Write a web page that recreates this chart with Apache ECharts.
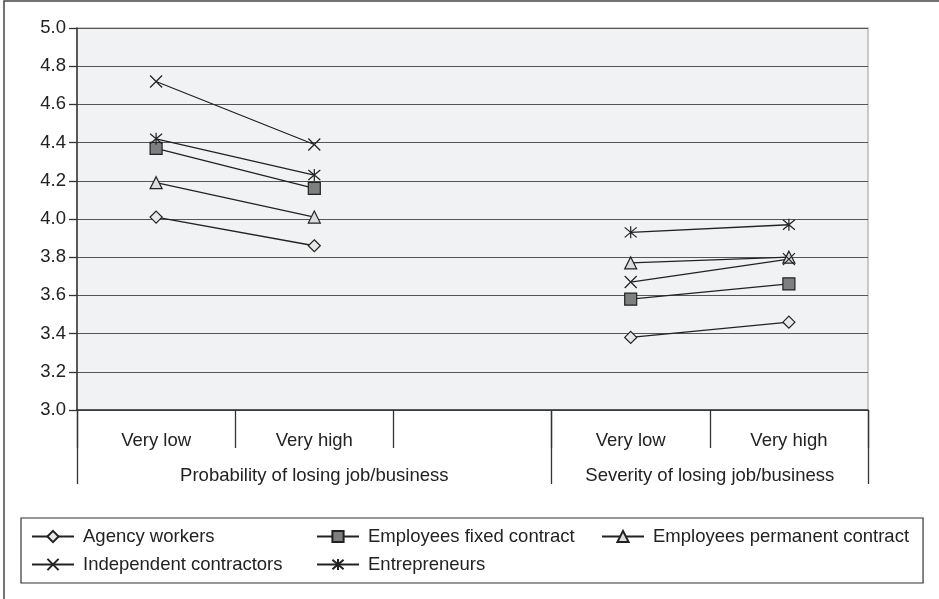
<!DOCTYPE html>
<html>
<head>
<meta charset="utf-8">
<script src="https://cdn.jsdelivr.net/npm/echarts@6/dist/echarts.min.js"></script>
<style>
  html, body { margin: 0; padding: 0; background: #fff; }
  #chart { width: 939px; height: 599px; }
</style>
</head>
<body>
<div id="chart"></div>
<script>
// ---- data ----
const categories = ["Very low", "Very high", "", "Very low", "Very high"];
const groupLabels = ["Probability of losing job/business", "Severity of losing job/business"];
const groupCenters = [1.5, 4];      // in category-slot units
const groupBounds = [0, 3, 5];      // slot boundaries between groups
const yTicks = [3.0, 3.2, 3.4, 3.6, 3.8, 4.0, 4.2, 4.4, 4.6, 4.8, 5.0];

const seriesNames = ["Agency workers", "Employees fixed contract", "Employees permanent contract",
                     "Independent contractors", "Entrepreneurs"];
const agencyWorkers          = [4.01, 3.86, null, 3.38, 3.46];
const employeesFixed         = [4.37, 4.16, null, 3.58, 3.66];
const employeesPermanent     = [4.19, 4.01, null, 3.77, 3.80];
const independentContractors = [4.72, 4.39, null, 3.67, 3.79];
const entrepreneurs          = [4.42, 4.23, null, 3.93, 3.97];

// ---- styles ----
const FONT = "'Liberation Sans', Arial, sans-serif";
const FS = 18.5;
const TXT = '#222';
const LINE = '#222';
const symbols = [
  { symbol: 'diamond', fill: '#e8e8e8' },
  { symbol: 'rect', fill: '#7f7f7f' },
  { symbol: 'triangle', fill: '#dcdcdc' },
  { symbol: 'path://M0,0L10,10M10,0L0,10', fill: 'none' },
  { symbol: 'path://M0,0L10,10M10,0L0,10M5,-1L5,11', fill: 'none' }
];
const values = [agencyWorkers, employeesFixed, employeesPermanent, independentContractors, entrepreneurs];

const series = seriesNames.map((name, i) => ({
  name: name,
  type: 'line',
  data: values[i],
  connectNulls: false,
  symbol: symbols[i].symbol,
  symbolSize: 12,
  showAllSymbol: true,
  lineStyle: { color: LINE, width: 1.3 },
  itemStyle: { color: symbols[i].fill, borderColor: '#222', borderWidth: 1.2 },
  emphasis: { disabled: true },
  z: 3
}));

const chart = echarts.init(document.getElementById('chart'), null, { renderer: 'canvas' });
chart.setOption({
  animation: false,
  textStyle: { fontFamily: FONT },
  graphic: [{
    type: 'rect', silent: true, z: -10,
    shape: { x: 4, y: 1, width: 1000, height: 1000 },
    style: { fill: 'none', stroke: '#444', lineWidth: 1.5 }
  }],
  grid: {
    left: 77, right: 71, top: 28, bottom: 189,
    show: true, backgroundColor: '#f1f2f4', borderColor: '#bbbbbb', borderWidth: 1.5,
    outerBoundsMode: 'none'
  },
  legend: {
    data: seriesNames,
    left: 21, top: 518,
    width: 902,
    padding: [9, 14, 9, 10],
    borderColor: '#333', borderWidth: 1.2,
    itemGap: 9, itemWidth: 42, itemHeight: 14,
    selectedMode: false,
    formatter: function (name) {
      return name === 'Employees permanent contract' ? '{b|' + name + '}' : '{a|' + name + '}';
    },
    textStyle: {
      fontSize: FS, color: TXT, fontFamily: FONT, lineHeight: 19,
      rich: {
        a: { fontSize: FS, color: TXT, fontFamily: FONT, width: 224, padding: [0, 0, 0, 4], lineHeight: 19 },
        b: { fontSize: FS, color: TXT, fontFamily: FONT, padding: [0, 0, 0, 4], lineHeight: 19 }
      }
    }
  },
  xAxis: [{
    type: 'category',
    data: categories,
    position: 'bottom',
    boundaryGap: true,
    axisLine: { show: true, lineStyle: { color: '#333', width: 1.5 } },
    axisTick: { show: true, interval: 0, length: 38, lineStyle: { color: '#333', width: 1.3 } },
    axisLabel: { interval: 0, margin: 21, fontSize: FS, color: TXT, fontFamily: FONT },
    splitLine: { show: false }
  }, {
    type: 'value',
    position: 'bottom',
    min: 0, max: 5,
    axisLine: { show: false },
    axisTick: { show: true, customValues: groupBounds, length: 74, lineStyle: { color: '#333', width: 1.3 } },
    axisLabel: {
      customValues: groupCenters, margin: 56, fontSize: FS, color: TXT, fontFamily: FONT,
      formatter: function (v) { const k = groupCenters.indexOf(v); return k >= 0 ? groupLabels[k] : ''; }
    },
    splitLine: { show: false }
  }],
  yAxis: {
    type: 'value',
    min: 3.0, max: 5.0, interval: 0.2,
    axisLine: { show: true, lineStyle: { color: '#333', width: 1.5 } },
    axisTick: { show: true, length: 8, lineStyle: { color: '#333', width: 1.3 } },
    axisLabel: {
      margin: 11, fontSize: FS, color: TXT, fontFamily: FONT,
      customValues: yTicks,
      formatter: function (v) { return v.toFixed(1); }
    },
    splitLine: { show: true, lineStyle: { color: '#555', width: 1.2 } }
  },
  series: series
});
</script>
</body>
</html>
